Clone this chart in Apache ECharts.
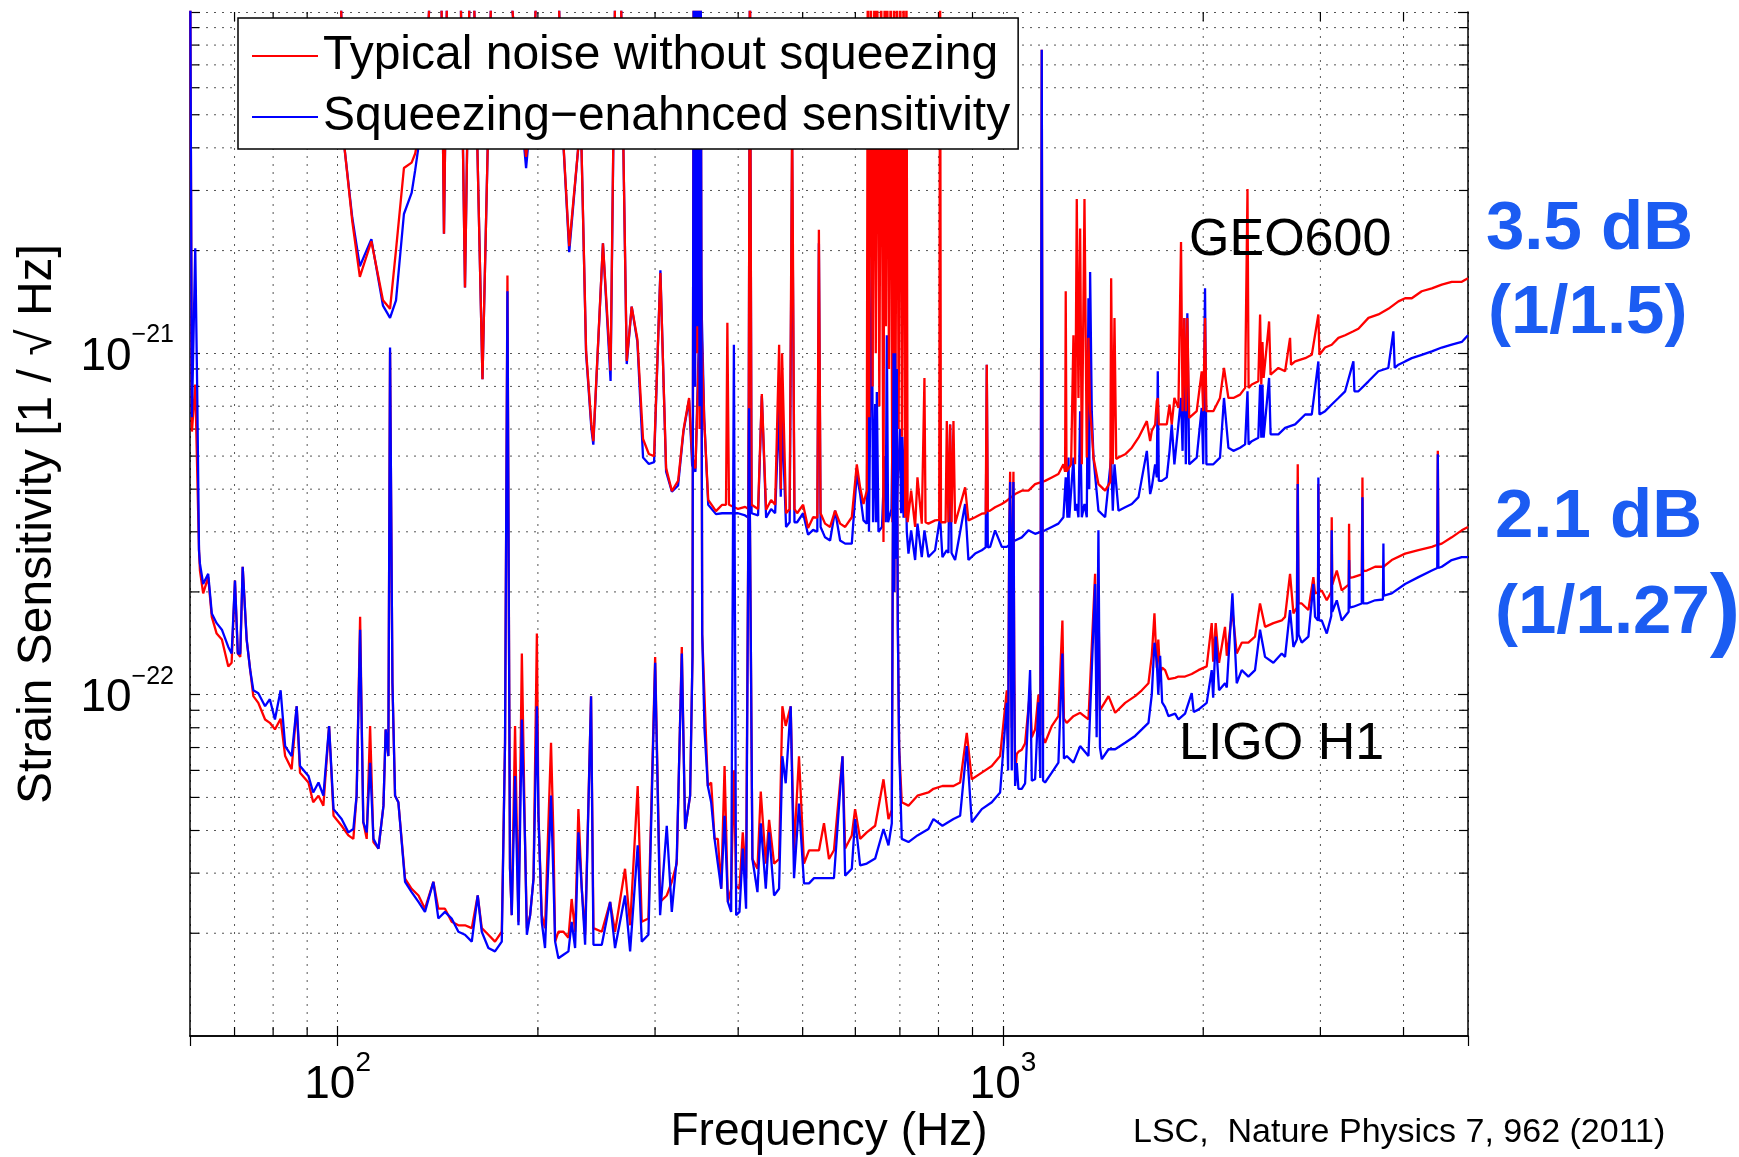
<!DOCTYPE html>
<html><head><meta charset="utf-8">
<script src="https://cdn.jsdelivr.net/npm/echarts/dist/echarts.min.js"></script>
<style>html,body{margin:0;padding:0;background:#fff}#c{width:1739px;height:1157px}</style>
</head><body><div id="c"></div>
<script>
// ---------------- data (frequency Hz, strain 1/sqrt(Hz)) ----------------
const ligoRed = [[60,2e-20],[60.4,5.9e-22],[61.1,8.1e-22],[61.5,8.1e-22],[61.9,2.65e-22],[62.1,2.31e-22],[62.8,1.98e-22],[63.9,2.21e-22],[64.7,1.69e-22],[65.8,1.51e-22],[67,1.45e-22],[68.5,1.21e-22],[69.3,1.24e-22],[70.1,2.16e-22],[70.8,1.32e-22],[71.4,1.29e-22],[72,2.37e-22],[73,1.45e-22],[73.9,1.18e-22],[74.7,9.9e-23],[76,9.46e-23],[77.8,8.46e-23],[79.1,8.27e-23],[80.5,7.91e-23],[82.1,8.5e-23],[83.4,6.61e-23],[85.3,6.05e-23],[86.8,9.25e-23],[87.8,5.91e-23],[90.4,5.53e-23],[91.9,4.84e-23],[93.6,5.06e-23],[95.2,4.73e-23],[97.1,8.09e-23],[98.6,4.42e-23],[101.4,4.13e-23],[103.8,3.87e-23],[105.6,3.78e-23],[106.8,5.06e-23],[108.1,1.69e-22],[109.3,4.23e-23],[110.6,3.78e-23],[111.9,8.09e-23],[113.2,3.7e-23],[115.2,3.54e-23],[117.2,4.73e-23],[118.1,7.91e-23],[119.2,6.61e-23],[119.9,1.01e-21],[120.9,1.08e-22],[122,5.06e-23],[123.4,4.84e-23],[126.3,2.89e-23],[129.2,2.7e-23],[132.3,2.58e-23],[135.3,2.36e-23],[139.3,2.83e-23],[141.7,2.36e-23],[145,2.36e-23],[148.4,2.16e-23],[151.9,2.11e-23],[155.4,2.11e-23],[159.1,2.07e-23],[162.4,2.58e-23],[164.7,2.07e-23],[168.5,1.98e-23],[172.4,1.89e-23],[176.5,2.02e-23],[178.5,7.23e-23],[180,1.69e-21],[181.6,3.09e-23],[182.7,2.26e-23],[184.8,8.09e-23],[187,2.16e-23],[189.2,1.32e-22],[191.3,3.7e-23],[192.5,2.07e-23],[194.7,2.26e-23],[197,2.89e-23],[199.3,1.51e-22],[200.4,4.42e-23],[202.7,2.26e-23],[205,2.07e-23],[209.3,7.23e-23],[211,3.95e-23],[212.3,1.89e-23],[214.7,2.02e-23],[218.5,2.02e-23],[222.3,1.94e-23],[224.8,2.52e-23],[227.5,2.02e-23],[230.1,4.62e-23],[232.8,2.7e-23],[235.5,1.98e-23],[240.4,9.9e-23],[242.4,2.07e-23],[249.5,2.02e-23],[256.8,2.47e-23],[261.2,2.02e-23],[270.4,3.09e-23],[275.2,2.11e-23],[282.5,5.4e-23],[286.5,2.16e-23],[293.2,2.21e-23],[300.1,1.29e-22],[305.3,2.47e-23],[312.4,2.58e-23],[317.9,2.83e-23],[323.4,3.2e-23],[329.1,1.38e-22],[332.9,4.04e-23],[338.7,5.06e-23],[341.5,1.3e-22],[343,2e-20],[344.5,8e-22],[345.5,2e-20],[347,1e-21],[348.2,2e-20],[350,6e-22],[351.2,2e-20],[353.2,1.5e-22],[356,9.9e-23],[360.1,5.4e-23],[364.3,5.53e-23],[368.6,3.78e-23],[372.8,3.78e-23],[377.2,2.7e-23],[381.6,6.18e-23],[386,2.47e-23],[390.4,2.7e-23],[394.1,6e-23],[397.2,2.75e-23],[401.8,2.7e-23],[406.4,3.95e-23],[411.1,2.89e-23],[415.4,6.9e-22],[420.2,3.3e-23],[427.6,3.09e-23],[432.5,5.2e-23],[440.1,3.2e-23],[445.2,4.3e-23],[452.9,3.2e-23],[460.8,3.3e-23],[466.1,9.25e-23],[471.5,8.1e-23],[479.7,9.25e-23],[485.3,3.5e-23],[493.7,6.6e-23],[502.3,3.2e-23],[511.1,3.5e-23],[520,3.5e-23],[529.1,3.5e-23],[538.3,4.2e-23],[547.7,3.3e-23],[557.2,3.5e-23],[573.9,6.6e-23],[579.2,3.54e-23],[592.7,3.87e-23],[599.5,4.62e-23],[610,3.78e-23],[624.2,3.95e-23],[642.6,4.13e-23],[661.4,5.65e-23],[672.9,4.32e-23],[680.7,4.6e-23],[684.7,8e-22],[686.6,2e-22],[688.6,9e-22],[690.6,2.5e-22],[692.6,8e-22],[695,1.6e-22],[698.2,7e-23],[704.6,4.84e-23],[721.1,4.73e-23],[743.9,5.06e-23],[772.7,5.17e-23],[786.2,5.3e-23],[811,5.4e-23],[842.6,5.4e-23],[862.3,5.53e-23],[882.3,7.73e-23],[897.7,5.65e-23],[929.4,5.91e-23],[962.1,6.18e-23],[990.2,6.61e-23],[1013.4,1.03e-22],[1018,7e-23],[1022,3e-22],[1025.2,4.5e-22],[1028,1.5e-22],[1031.1,8e-23],[1034,3e-22],[1037,4.5e-22],[1040,1.2e-22],[1043,5.9e-23],[1049,6.7e-23],[1055,6.8e-23],[1067.3,6.9e-23],[1079.7,7.2e-23],[1098.5,1.03e-22],[1105,7.5e-23],[1117.7,7.91e-23],[1130.8,1e-22],[1138,7.6e-23],[1143.7,7.75e-21],[1149,7.5e-23],[1157,7.23e-23],[1184,8.09e-23],[1211.6,8.65e-23],[1228.5,1.65e-22],[1235,8.5e-23],[1247,8.27e-23],[1276.3,8.65e-23],[1306.2,8.85e-23],[1344.4,8.46e-23],[1375.6,2.26e-22],[1383,9e-23],[1391.6,1.9e-22],[1399,9e-23],[1408,9.04e-23],[1441,9.9e-23],[1474.5,8.85e-23],[1526.5,9.46e-23],[1580.2,9.9e-23],[1617,1.03e-22],[1654.7,1.08e-22],[1673.8,1.3e-22],[1689.3,1.73e-22],[1703,1.2e-22],[1712,1.45e-22],[1722.8,1.15e-22],[1735,1.2e-22],[1752.8,1.18e-22],[1773.1,1.11e-22],[1814.4,1.12e-22],[1835.4,1.13e-22],[1878.1,1.13e-22],[1921.8,1.15e-22],[1966.7,1.18e-22],[2024.2,1.21e-22],[2059.5,1.62e-22],[2070,1.25e-22],[2088.1,1.62e-22],[2112.3,1.24e-22],[2156.6,1.58e-22],[2170,1.3e-22],[2212.5,1.77e-22],[2245.8,1.32e-22],[2285,1.42e-22],[2338.2,1.42e-22],[2392.6,1.48e-22],[2434.3,1.85e-22],[2477.1,1.58e-22],[2549.5,1.62e-22],[2624.2,1.65e-22],[2654.6,1.69e-22],[2700.9,2.26e-22],[2732.5,1.73e-22],[2765,1.8e-22],[2773.8,4.73e-22],[2782,1.85e-22],[2812.4,1.85e-22],[2878,1.77e-22],[2928.1,2.21e-22],[2945,1.98e-22],[2975,2e-22],[2979,4.14e-22],[2985,2e-22],[3014,2.02e-22],[3067,1.89e-22],[3115,2e-22],[3120,3.31e-22],[3126,2.1e-22],[3175,2.31e-22],[3230,2.02e-22],[3308,2.1e-22],[3313,3.17e-22],[3320,2.2e-22],[3363,2.21e-22],[3462,2.25e-22],[3470,4.33e-22],[3478,2.3e-22],[3523,2.31e-22],[3625,2.37e-22],[3731,2.37e-22],[3840,2.48e-22],[4022,2.59e-22],[4212,2.65e-22],[4412,2.71e-22],[4495,2.75e-22],[4504,5.18e-22],[4513,2.75e-22],[4566,2.77e-22],[4726,2.89e-22],[4893,3.03e-22],[5000,3.1e-22]];

const ligoBlue = [[60,2e-20],[60.4,6.5e-22],[61.1,2.03e-21],[61.5,8.1e-22],[61.9,2.65e-22],[62.1,2.42e-22],[62.8,2.11e-22],[63.9,2.26e-22],[64.7,1.73e-22],[65.8,1.62e-22],[67,1.55e-22],[68.5,1.38e-22],[69.3,1.32e-22],[70.1,2.16e-22],[70.8,1.32e-22],[71.4,1.32e-22],[72,2.37e-22],[73,1.45e-22],[73.9,1.18e-22],[74.7,1.03e-22],[76,1.01e-22],[77.8,9.25e-23],[79.1,9.7e-23],[80.5,8.46e-23],[82.1,1.03e-22],[83.4,7.07e-23],[85.3,6.61e-23],[86.8,9.25e-23],[87.8,6.18e-23],[90.4,5.78e-23],[91.9,5.17e-23],[93.6,5.53e-23],[95.2,5.06e-23],[97.1,8.09e-23],[98.6,4.62e-23],[101.4,4.32e-23],[103.8,3.95e-23],[105.6,4.04e-23],[106.8,5.06e-23],[108.1,1.55e-22],[109.3,4.23e-23],[110.6,3.95e-23],[111.9,6.32e-23],[113.2,3.78e-23],[115.2,3.54e-23],[117.2,4.73e-23],[118.1,7.91e-23],[119.2,6.61e-23],[119.9,1.04e-21],[120.9,1.08e-22],[122,5.06e-23],[123.4,4.84e-23],[126.3,2.83e-23],[129.2,2.64e-23],[132.3,2.47e-23],[135.3,2.31e-23],[139.3,2.83e-23],[141.7,2.21e-23],[145,2.31e-23],[148.4,2.21e-23],[151.9,2.02e-23],[155.4,1.98e-23],[159.1,1.89e-23],[162.4,2.58e-23],[164.7,2.02e-23],[168.5,1.81e-23],[172.4,1.77e-23],[176.5,1.89e-23],[178.5,7.23e-23],[180,1.52e-21],[181.6,3.09e-23],[182.7,2.26e-23],[184.8,5.78e-23],[187,2.11e-23],[189.2,8.46e-23],[191.3,3.7e-23],[192.5,1.98e-23],[194.7,2.26e-23],[197,2.89e-23],[199.3,9.25e-23],[200.4,4.42e-23],[202.7,2.16e-23],[205,1.81e-23],[209.3,5.06e-23],[211,2.94e-23],[212.3,1.89e-23],[214.7,1.69e-23],[218.5,1.73e-23],[222.3,1.77e-23],[224.8,2.16e-23],[227.5,1.81e-23],[230.1,3.95e-23],[232.8,2.7e-23],[235.5,1.85e-23],[240.4,9.9e-23],[242.4,1.85e-23],[249.5,1.85e-23],[256.8,2.47e-23],[261.2,1.81e-23],[270.4,2.58e-23],[275.2,1.77e-23],[282.5,3.62e-23],[286.5,1.89e-23],[293.2,1.98e-23],[300.1,1.24e-22],[305.3,2.26e-23],[312.4,4.13e-23],[317.9,2.31e-23],[323.4,3.31e-23],[329.1,1.32e-22],[332.9,4.04e-23],[338.7,5.06e-23],[341.5,1.3e-22],[343,2e-20],[344.5,8e-22],[345.5,2e-20],[347,1.2e-21],[348.2,2e-20],[350,7e-22],[351.2,2e-20],[353.2,1.5e-22],[356,7.9e-23],[360.1,5.4e-23],[364.3,4.84e-23],[368.6,3.78e-23],[372.8,3.2e-23],[377.2,2.7e-23],[381.6,4.42e-23],[386,2.47e-23],[390.4,2.31e-23],[394.1,1.06e-21],[397.2,2.26e-23],[401.8,2.31e-23],[406.4,3.54e-23],[411.1,2.36e-23],[415.4,6.9e-22],[420.2,3.3e-23],[427.6,2.64e-23],[432.5,4.2e-23],[440.1,2.7e-23],[445.2,3.95e-23],[452.9,2.58e-23],[460.8,2.7e-23],[466.1,6.6e-23],[471.5,5.5e-23],[479.7,9.25e-23],[485.3,2.9e-23],[493.7,4.8e-23],[502.3,2.8e-23],[511.1,2.8e-23],[520,2.9e-23],[529.1,2.9e-23],[538.3,2.9e-23],[547.7,2.9e-23],[557.2,2.9e-23],[573.9,6.6e-23],[579.2,2.95e-23],[592.7,3.09e-23],[599.5,4.32e-23],[610,3.16e-23],[624.2,3.2e-23],[642.6,3.31e-23],[661.4,4.04e-23],[672.9,3.62e-23],[680.7,4.2e-23],[684.7,1e-21],[686.6,2e-22],[688.6,1e-21],[690.6,2.5e-22],[692.6,9e-22],[695,1.6e-22],[698.2,7e-23],[704.6,3.78e-23],[721.1,3.7e-23],[743.9,3.87e-23],[772.7,4.04e-23],[786.2,4.32e-23],[811,4.13e-23],[842.6,4.32e-23],[862.3,4.42e-23],[882.3,7.07e-23],[897.7,4.23e-23],[929.4,4.62e-23],[962.1,4.84e-23],[990.2,5.17e-23],[1013.4,9.46e-23],[1018,6e-23],[1022,3e-22],[1025.2,4.2e-22],[1028,1.3e-22],[1031.1,6e-23],[1034,3e-22],[1037,4.2e-22],[1040,1.1e-22],[1043,5.4e-23],[1049,6.3e-23],[1055,5.3e-23],[1067.3,5.3e-23],[1079.7,5.5e-23],[1098.5,1.18e-22],[1105,5.6e-23],[1117.7,5.65e-23],[1130.8,9.5e-23],[1138,5.7e-23],[1143.7,7.75e-21],[1149,5.6e-23],[1157,5.53e-23],[1184,5.91e-23],[1211.6,6.32e-23],[1228.5,1.32e-22],[1235,6.5e-23],[1247,6.61e-23],[1276.3,6.32e-23],[1306.2,7.07e-23],[1344.4,6.61e-23],[1375.6,2.11e-22],[1383,7.5e-23],[1391.6,3.03e-22],[1399,7e-23],[1408,6.47e-23],[1441,6.92e-23],[1474.5,6.92e-23],[1526.5,7.23e-23],[1580.2,7.57e-23],[1617,7.91e-23],[1654.7,8.27e-23],[1673.8,1e-22],[1689.3,1.42e-22],[1703,1.25e-22],[1712,1e-22],[1722.8,1.3e-22],[1735,9.5e-23],[1752.8,9.2e-23],[1773.1,8.65e-23],[1814.4,8.8e-23],[1835.4,8.46e-23],[1878.1,8.8e-23],[1921.8,1.01e-22],[1935,8.9e-23],[1966.7,9.04e-23],[2024.2,9.46e-23],[2059.5,1.18e-22],[2070,9.8e-23],[2088.1,1.48e-22],[2112.3,1.03e-22],[2156.6,1.08e-22],[2170,1.05e-22],[2212.5,1.98e-22],[2245.8,1.08e-22],[2285,1.18e-22],[2338.2,1.13e-22],[2392.6,1.18e-22],[2434.3,1.55e-22],[2477.1,1.29e-22],[2549.5,1.24e-22],[2624.2,1.32e-22],[2654.6,1.29e-22],[2700.9,1.77e-22],[2732.5,1.38e-22],[2765,1.45e-22],[2773.8,4.14e-22],[2782,1.5e-22],[2812.4,1.42e-22],[2878,1.48e-22],[2928.1,2.11e-22],[2945,1.69e-22],[2975,1.65e-22],[2979,4.33e-22],[2985,1.65e-22],[3014,1.65e-22],[3067,1.51e-22],[3115,1.7e-22],[3120,3.03e-22],[3126,1.75e-22],[3175,1.89e-22],[3230,1.65e-22],[3308,1.75e-22],[3313,2.48e-22],[3320,1.8e-22],[3363,1.81e-22],[3462,1.85e-22],[3470,3.79e-22],[3478,1.85e-22],[3523,1.85e-22],[3625,1.89e-22],[3725,1.9e-22],[3731,2.77e-22],[3737,1.95e-22],[3840,1.98e-22],[4022,2.11e-22],[4212,2.21e-22],[4412,2.31e-22],[4495,2.35e-22],[4504,5.06e-22],[4513,2.35e-22],[4566,2.37e-22],[4726,2.48e-22],[4893,2.53e-22],[5000,2.53e-22]];

const geoRed = [[60,5e-20],[99.8,3e-20],[102.5,3.94e-21],[105.2,2.44e-21],[108,1.675e-21],[112.4,2.13e-21],[117,1.43e-21],[119.9,1.35e-21],[122.4,2.01e-21],[125.8,3.49e-21],[129.2,3.62e-21],[130.8,3.85e-21],[135.3,5.5e-21],[138.5,1.5e-20],[143,1.5e-20],[144.5,2.24e-21],[146.3,1.5e-20],[152.8,1.5e-20],[155.4,1.56e-21],[158.2,1.5e-20],[159.8,1.5e-20],[165.1,8.4e-22],[170.7,1.5e-20],[180,1.5e-20],[188.1,5.5e-21],[192,3.76e-21],[196,5.5e-21],[200,1.5e-20],[214,1.5e-20],[217.9,4.5e-21],[222.9,2.06e-21],[229.8,3.94e-21],[231.5,6e-21],[236.3,1.02e-21],[240.7,6.17e-22],[242.3,5.53e-22],[250.5,2.1e-21],[257.2,8.9e-22],[261.7,1.5e-20],[266,1.5e-20],[272,9.5e-22],[276.7,1.37e-21],[282.2,1.1e-21],[287.8,5.61e-22],[293.6,5.07e-22],[299,5e-22],[305.6,1.72e-21],[311.7,4.61e-22],[318,3.95e-22],[324.9,4.23e-22],[331,5.96e-22],[337.5,7.4e-22],[341.1,5e-22],[345,4.6e-22],[351.3,1.44e-21],[355.6,6.38e-22],[360.6,3.72e-22],[370.4,3.45e-22],[378.4,3.6e-22],[383.5,3.6e-22],[385.3,1.23e-21],[387.5,3.6e-22],[399.9,3.5e-22],[409.7,3.55e-22],[414.5,3.5e-22],[416.6,1.5e-20],[419,3.6e-22],[428.5,3.5e-22],[434.1,7.6e-22],[440.6,3.48e-22],[448.3,3.72e-22],[454.6,3.6e-22],[460.9,1.06e-21],[463.5,4e-22],[465.6,1e-21],[472.1,3.4e-22],[478,3.5e-22],[482.1,5e-21],[486,3.5e-22],[490.5,3.4e-22],[500.8,3.6e-22],[509.5,3.08e-22],[518.4,3.31e-22],[526,3.3e-22],[528.9,2.3e-21],[532,3.4e-22],[540.3,3.17e-22],[549.8,3.1e-22],[559.4,3.46e-22],[569.2,3.17e-22],[579.2,3.1e-22],[592.7,3.31e-22],[603,4.73e-22],[610,4.05e-22],[617.1,3.62e-22],[624.2,3.96e-22],[626.4,1.5e-20],[629.5,6.5e-22],[633,1.5e-20],[637,8e-22],[641,1.5e-20],[644,1e-21],[647,1.5e-20],[652,7e-22],[656,1.5e-20],[661.4,2.8e-22],[664,1.5e-20],[667,1.2e-21],[670,1.5e-20],[674,9e-22],[678,1.5e-20],[682,3.2e-22],[686,1.5e-20],[689,4.4e-22],[693,1.5e-20],[697,6e-22],[701,1.5e-20],[705,5.7e-22],[709,1.5e-20],[713,3.3e-22],[716,1.5e-20],[719,3.2e-22],[721.1,3.17e-22],[727.8,3.96e-22],[737.9,3.1e-22],[743.9,4.33e-22],[755.1,3.17e-22],[759.5,3.2e-22],[762.1,8.47e-22],[765,3.2e-22],[772.7,3.17e-22],[790.7,3.24e-22],[802,3.25e-22],[804.5,1.5e-20],[807,3.2e-22],[811,3.17e-22],[820,3.2e-22],[823.4,6.33e-22],[828,3.2e-22],[832.9,6.19e-22],[837,3.2e-22],[842.6,6.33e-22],[847.4,3.17e-22],[877.3,4.05e-22],[887.4,3.24e-22],[908.2,3.31e-22],[929.4,3.39e-22],[942,3.4e-22],[945.6,9.26e-22],[949,3.45e-22],[956.5,3.46e-22],[973.2,3.54e-22],[996.1,3.62e-22],[1013.4,3.7e-22],[1043,3.87e-22],[1067.3,3.96e-22],[1092.2,3.96e-22],[1117.7,4.14e-22],[1157,4.23e-22],[1184,4.33e-22],[1211.6,4.43e-22],[1232.8,4.73e-22],[1240,4.5e-22],[1242.7,1.52e-21],[1246,4.5e-22],[1254.5,4.53e-22],[1266,4.73e-22],[1276.3,1.13e-21],[1283.6,4.73e-22],[1291.1,2.83e-21],[1298.6,7.4e-22],[1306.2,2.32e-21],[1313.8,4.73e-22],[1326,2.83e-21],[1336.6,4.95e-22],[1344.4,1.11e-21],[1352.1,6.77e-22],[1359.9,5.92e-22],[1367.8,4.95e-22],[1391.6,4.14e-22],[1424.3,3.96e-22],[1450,4.2e-22],[1454.2,1.66e-21],[1462.6,4.73e-22],[1471.1,1.27e-21],[1480,4.9e-22],[1491.6,4.95e-22],[1526.5,5.06e-22],[1562.1,5.29e-22],[1598.5,5.66e-22],[1645.4,6.33e-22],[1664.4,5.53e-22],[1673.8,5.92e-22],[1693.4,6.19e-22],[1703,7.24e-22],[1708.9,7.4e-22],[1715,6.19e-22],[1732.6,6.19e-22],[1763,6.19e-22],[1780,7.08e-22],[1793.6,6.19e-22],[1810,7.4e-22],[1835.4,6.92e-22],[1852,2.12e-21],[1862,6.77e-22],[1873.4,1.27e-21],[1883,6.77e-22],[1893,1.27e-21],[1905,6.47e-22],[1955.4,6.77e-22],[1989.5,8.86e-22],[2000,6.77e-22],[2012.5,1.27e-21],[2022,6.77e-22],[2071.2,6.77e-22],[2119.5,7.4e-22],[2149,9.06e-22],[2182,7.4e-22],[2220,7.4e-22],[2272,7.57e-22],[2312,7.92e-22],[2331,3.03e-21],[2340,7.92e-22],[2366,8.1e-22],[2420,8.28e-22],[2435,1.3e-21],[2445,8.1e-22],[2455,1.08e-21],[2465,8.47e-22],[2512,1.24e-21],[2525,8.66e-22],[2594,9.06e-22],[2655,8.86e-22],[2701,1.11e-21],[2710,9.26e-22],[2749,9.47e-22],[2846,9.68e-22],[2912,9.9e-22],[2979,1.3e-21],[2990,9.9e-22],[3049,1.04e-21],[3120,1.06e-21],[3193,1.11e-21],[3268,1.13e-21],[3363,1.16e-21],[3422,1.18e-21],[3543,1.27e-21],[3667,1.3e-21],[3795,1.35e-21],[3930,1.42e-21],[4022,1.45e-21],[4116,1.45e-21],[4260,1.52e-21],[4412,1.55e-21],[4566,1.59e-21],[4726,1.62e-21],[4893,1.62e-21],[5000,1.66e-21]];

const geoBlue = [[60,5e-20],[99.8,3e-20],[102.5,3.94e-21],[105.2,2.5e-21],[108,1.8e-21],[112.4,2.16e-21],[117,1.38e-21],[119.9,1.27e-21],[122.4,1.43e-21],[125.8,2.56e-21],[129.2,2.95e-21],[130.8,3.44e-21],[135.3,5.5e-21],[138.5,1.5e-20],[143,1.5e-20],[144.5,2.24e-21],[146.3,1.5e-20],[152.8,1.5e-20],[155.4,1.56e-21],[158.2,1.5e-20],[159.8,1.5e-20],[165.1,8.4e-22],[170.7,1.5e-20],[180,1.5e-20],[188.1,5.5e-21],[192,3.49e-21],[196,5.5e-21],[200,1.5e-20],[214,1.5e-20],[217.9,4.5e-21],[222.9,1.98e-21],[229.8,3.94e-21],[231.5,6e-21],[236.3,1e-21],[240.7,6e-22],[242.3,5.4e-22],[250.5,2.1e-21],[257.2,8.3e-22],[261.7,1.5e-20],[266,1.5e-20],[272,9.3e-22],[276.7,1.37e-21],[282.2,1.08e-21],[287.8,4.95e-22],[293.6,4.74e-22],[299,4.8e-22],[305.6,1.75e-21],[311.7,4.5e-22],[318,3.93e-22],[324.9,4.1e-22],[331,5.9e-22],[337.5,7.3e-22],[341.1,4.7e-22],[345,4.5e-22],[351.3,1.78e-21],[355.6,6.5e-22],[360.6,3.6e-22],[370.4,3.38e-22],[378.4,3.4e-22],[387.5,3.4e-22],[399.9,3.4e-22],[409.7,3.35e-22],[414.5,3.3e-22],[416.6,1.5e-20],[419,3.4e-22],[428.5,3.35e-22],[434.1,7.5e-22],[440.6,3.3e-22],[448.3,3.5e-22],[454.6,3.4e-22],[460.9,6.9e-22],[463.5,3.8e-22],[465.6,6.5e-22],[472.1,3.1e-22],[478,3.2e-22],[482.1,4e-21],[486,3.2e-22],[490.5,3.2e-22],[500.8,3.4e-22],[509.5,2.94e-22],[518.4,3.04e-22],[526,3e-22],[528.9,2.1e-21],[532,3.1e-22],[540.3,2.89e-22],[549.8,2.83e-22],[559.4,3.46e-22],[569.2,2.83e-22],[579.2,2.77e-22],[592.7,2.77e-22],[603,4.43e-22],[610,3.87e-22],[617.1,3.24e-22],[624.2,3.17e-22],[626.4,1e-21],[629,3e-22],[635.1,1.94e-21],[638,3.2e-22],[642.6,7.1e-22],[644.5,3.2e-22],[646.3,7.7e-22],[650,3e-22],[658,3.1e-22],[664,5e-22],[666.5,3.2e-22],[669.1,1.13e-21],[672,3.2e-22],[680,3.5e-22],[684.7,9.5e-22],[686.6,3.4e-22],[688.6,9e-22],[692,3.5e-22],[700.6,6e-22],[703,3.4e-22],[706,5.7e-22],[709,3.3e-22],[712.8,5.7e-22],[717,3e-22],[721.1,2.59e-22],[727.8,3.03e-22],[737.9,2.48e-22],[743.9,3.17e-22],[755.1,2.53e-22],[762.1,3.03e-22],[772.7,2.53e-22],[790.7,2.65e-22],[804.5,3.31e-22],[811,2.53e-22],[823.4,2.65e-22],[828,2.6e-22],[832.9,6.19e-22],[837,2.6e-22],[847.4,2.48e-22],[877.3,3.62e-22],[887.4,2.48e-22],[908.2,2.59e-22],[929.4,2.65e-22],[942,2.7e-22],[945.6,9.26e-22],[949,2.7e-22],[956.5,2.71e-22],[973.2,3.03e-22],[996.1,2.71e-22],[1013.4,2.71e-22],[1043,2.83e-22],[1067.3,2.89e-22],[1092.2,3.03e-22],[1117.7,2.96e-22],[1157,3.03e-22],[1184,3.1e-22],[1211.6,3.17e-22],[1232.8,3.31e-22],[1242.7,4.33e-22],[1250,3.3e-22],[1254.5,4.95e-22],[1258,3.3e-22],[1266,3.31e-22],[1276.3,4.95e-22],[1283.6,3.46e-22],[1291.1,3.62e-22],[1298.6,3.31e-22],[1306.2,6.77e-22],[1313.8,3.31e-22],[1326,3.62e-22],[1336.6,3.31e-22],[1344.4,1.45e-21],[1348,4e-22],[1352.1,1.73e-21],[1359.9,6.77e-22],[1367.8,4.95e-22],[1391.6,3.46e-22],[1424.3,3.31e-22],[1454.2,4.95e-22],[1462.6,3.46e-22],[1471.1,4.73e-22],[1491.6,3.46e-22],[1526.5,3.54e-22],[1562.1,3.62e-22],[1598.5,3.79e-22],[1645.4,5.18e-22],[1664.4,3.87e-22],[1673.8,4.05e-22],[1693.4,4.73e-22],[1703,4.33e-22],[1708.9,8.86e-22],[1715,4.23e-22],[1732.6,4.23e-22],[1763,4.33e-22],[1780,5.18e-22],[1793.6,6.19e-22],[1810,4.73e-22],[1835.4,6.19e-22],[1852,7.4e-22],[1862,5.18e-22],[1873.4,1.27e-21],[1883,4.73e-22],[1893,1.31e-21],[1905,4.73e-22],[1955.4,4.95e-22],[1989.5,6.92e-22],[2000,4.73e-22],[2012.5,1.55e-21],[2022,4.73e-22],[2071.2,4.73e-22],[2119.5,4.95e-22],[2149,7.4e-22],[2182,5.29e-22],[2220,5.18e-22],[2272,5.29e-22],[2312,5.41e-22],[2331,7.74e-22],[2340,5.41e-22],[2366,5.53e-22],[2420,5.66e-22],[2435,8.1e-22],[2445,5.66e-22],[2455,8.1e-22],[2465,5.66e-22],[2512,8.47e-22],[2525,5.79e-22],[2594,5.79e-22],[2655,6.05e-22],[2749,6.19e-22],[2846,6.62e-22],[2912,6.62e-22],[2979,9.47e-22],[2990,6.62e-22],[3049,6.77e-22],[3120,7.08e-22],[3193,7.4e-22],[3268,7.74e-22],[3363,9.47e-22],[3375,7.74e-22],[3422,7.74e-22],[3543,8.28e-22],[3667,8.86e-22],[3795,9.06e-22],[3862,1.16e-21],[3880,9.06e-22],[3930,9.26e-22],[4022,9.47e-22],[4116,9.68e-22],[4260,9.9e-22],[4412,1.013e-21],[4566,1.04e-21],[4726,1.06e-21],[4893,1.08e-21],[5000,1.13e-21]];

// tick values
const xMajorExp = [2, 3];
const yMajorExp = [-23, -22, -21];
const xMinorTicks = [70, 80, 90, 200, 300, 400, 500, 600, 700, 800, 900, 2000, 3000, 4000];
const yMinorTicks = [2e-23, 3e-23, 4e-23, 5e-23, 6e-23, 7e-23, 8e-23, 9e-23,
                     2e-22, 3e-22, 4e-22, 5e-22, 6e-22, 7e-22, 8e-22, 9e-22,
                     2e-21, 3e-21, 4e-21, 5e-21, 6e-21, 7e-21, 8e-21, 9e-21];

const NAME_RED = 'Typical noise without squeezing';
const NAME_BLUE = 'Squeezing\u2212enahnced sensitivity';
const Y_TITLE = 'Strain Sensitivity [1 / \u221A Hz]';
const FONT = '"Liberation Sans", Arial, Helvetica, sans-serif';
const TXT_BLUE = '#1b5cf2';
const GRID_COLOR = '#555';

const chart = echarts.init(document.getElementById('c'), null, {renderer: 'canvas', width: 1739, height: 1157});

const xRich = {
  b: {fontSize: 46, fontFamily: FONT, color: '#000', lineHeight: 72},
  s: {fontSize: 28, fontFamily: FONT, color: '#000', lineHeight: 28, verticalAlign: 'top'}
};
const yRich = {
  b: {fontSize: 46, fontFamily: FONT, color: '#000', lineHeight: 68},
  s: {fontSize: 25, fontFamily: FONT, color: '#000', lineHeight: 25, verticalAlign: 'top'}
};

function xLabel(v) {
  const e = Math.round(Math.log10(v));
  if (Math.abs(Math.log10(v) - e) > 1e-6 || xMajorExp.indexOf(e) < 0) return '';
  return '{b|10}{s|' + e + '}';
}
function yLabel(v) {
  const e = Math.round(Math.log10(v));
  if (Math.abs(Math.log10(v) - e) > 1e-6 || yMajorExp.indexOf(e) < 0) return '';
  return '{b|10}{s|\u2212' + (-e) + '}';
}

const axisLineStyle = {color: '#000', width: 1.5};
const majorTick = {show: true, inside: true, length: 10, lineStyle: {color: '#000', width: 1.2}};
const gridDash = {color: GRID_COLOR, width: 1, type: [2, 6]};

function minorX(params, api) {
  const cs = params.coordSys;
  const px = api.coord([api.value(0), api.value(1)])[0];
  const top = cs.y, bot = cs.y + cs.height;
  return {type: 'group', children: [
    {type: 'line', shape: {x1: px, y1: top, x2: px, y2: bot}, style: {stroke: GRID_COLOR, lineWidth: 1, lineDash: [2, 6]}},
    {type: 'line', shape: {x1: px, y1: bot, x2: px, y2: bot - 9}, style: {stroke: '#000', lineWidth: 1.2}},
    {type: 'line', shape: {x1: px, y1: top, x2: px, y2: top + 9}, style: {stroke: '#000', lineWidth: 1.2}}
  ]};
}
function minorY(params, api) {
  const cs = params.coordSys;
  const py = api.coord([api.value(0), api.value(1)])[1];
  const l = cs.x, r = cs.x + cs.width;
  return {type: 'group', children: [
    {type: 'line', shape: {x1: l, y1: py, x2: r, y2: py}, style: {stroke: GRID_COLOR, lineWidth: 1, lineDash: [2, 6]}},
    {type: 'line', shape: {x1: l, y1: py, x2: l + 9, y2: py}, style: {stroke: '#000', lineWidth: 1.2}},
    {type: 'line', shape: {x1: r, y1: py, x2: r - 9, y2: py}, style: {stroke: '#000', lineWidth: 1.2}}
  ]};
}

function lineSeries(name, data, color) {
  return {name: name, type: 'line', data: data, symbol: 'none', showSymbol: false, smooth: false,
    clip: true, z: 3, lineStyle: {color: color, width: 2.3}, itemStyle: {color: color},
    emphasis: {disabled: true}, animation: false};
}

const option = {
  animation: false,
  backgroundColor: '#fff',
  grid: {left: 190, right: 271, top: 12, bottom: 121, containLabel: false, outerBoundsMode: 'none'},
  legend: {
    data: [NAME_RED, NAME_BLUE], orient: 'vertical', left: 238, top: 18,
    backgroundColor: '#fff', borderColor: '#000', borderWidth: 1.5, borderRadius: 0,
    padding: [14, 8, 8, 14], itemWidth: 66, itemHeight: 2, itemGap: 13,
    icon: 'rect', selectedMode: false, z: 10,
    textStyle: {fontSize: 48, fontFamily: FONT, color: '#000', lineHeight: 48}
  },
  xAxis: [{
    type: 'log', logBase: 10, min: 60, max: 5000, position: 'bottom',
    axisLine: {show: true, lineStyle: axisLineStyle},
    axisTick: majorTick,
    axisLabel: {show: true, margin: 13, formatter: xLabel, rich: xRich, showMinLabel: false, showMaxLabel: false},
    splitLine: {show: true, lineStyle: gridDash},
    name: 'Frequency (Hz)', nameLocation: 'middle', nameGap: 73, nameMoveOverlap: false,
    nameTextStyle: {fontSize: 46, fontFamily: FONT, color: '#000'}
  }, {
    type: 'log', logBase: 10, min: 60, max: 5000, position: 'top',
    axisLine: {show: true, lineStyle: axisLineStyle},
    axisTick: majorTick, axisLabel: {show: false}, splitLine: {show: false}
  }],
  yAxis: [{
    type: 'log', logBase: 10, min: 1e-23, max: 1e-20, position: 'left',
    axisLine: {show: true, lineStyle: axisLineStyle},
    axisTick: majorTick,
    axisLabel: {show: true, margin: 16, formatter: yLabel, rich: yRich, padding: [7, 0, 0, 0]},
    splitLine: {show: true, lineStyle: gridDash},
    name: Y_TITLE, nameLocation: 'middle', nameGap: 128, nameRotate: 90, nameMoveOverlap: false,
    nameTextStyle: {fontSize: 48, fontFamily: FONT, color: '#000'}
  }, {
    type: 'log', logBase: 10, min: 1e-23, max: 1e-20, position: 'right',
    axisLine: {show: true, lineStyle: axisLineStyle},
    axisTick: majorTick, axisLabel: {show: false}, splitLine: {show: false}
  }],
  series: [
    {type: 'custom', name: 'xminor', xAxisIndex: 0, yAxisIndex: 0, silent: true, z: 1, clip: false,
     data: xMinorTicks.map(v => [v, 1e-22]), renderItem: minorX},
    {type: 'custom', name: 'yminor', xAxisIndex: 0, yAxisIndex: 0, silent: true, z: 1, clip: false,
     data: yMinorTicks.map(v => [100, v]), renderItem: minorY},
    lineSeries(NAME_BLUE, geoBlue, '#0000ff'),
    lineSeries(NAME_RED, geoRed, '#ff0000'),
    lineSeries(NAME_RED, ligoRed, '#ff0000'),
    lineSeries(NAME_BLUE, ligoBlue, '#0000ff')
  ],
  graphic: [
    {type: 'text', x: 1189, y: 241, z: 20, style: {text: 'GEO600', font: '52px ' + FONT, fill: '#000', align: 'left', verticalAlign: 'middle'}},
    {type: 'text', x: 1179, y: 745, z: 20, style: {text: 'LIGO H1', font: '52px ' + FONT, fill: '#000', align: 'left', verticalAlign: 'middle'}},
    {type: 'text', x: 1486, y: 230, z: 20, style: {text: '3.5 dB', font: 'bold 69px ' + FONT, fill: TXT_BLUE, align: 'left', verticalAlign: 'middle'}},
    {type: 'text', x: 1488, y: 314, z: 20, style: {text: '(1/1.5)', font: 'bold 69px ' + FONT, fill: TXT_BLUE, align: 'left', verticalAlign: 'middle'}},
    {type: 'text', x: 1495, y: 518, z: 20, style: {text: '2.1 dB', font: 'bold 69px ' + FONT, fill: TXT_BLUE, align: 'left', verticalAlign: 'middle'}},
    {type: 'text', x: 1495, y: 614, z: 20, style: {text: '{a|(1/1.27}{c|)}', align: 'left', verticalAlign: 'middle',
      rich: {a: {fontSize: 69, fontWeight: 'bold', fontFamily: FONT, fill: TXT_BLUE, color: TXT_BLUE},
             c: {fontSize: 92, fontWeight: 'bold', fontFamily: FONT, fill: TXT_BLUE, color: TXT_BLUE}}}},
    {type: 'text', x: 1133, y: 1133, z: 20, style: {text: 'LSC,  Nature Physics 7, 962 (2011)', font: '34px ' + FONT, fill: '#000', align: 'left', verticalAlign: 'middle'}}
  ]
};
chart.setOption(option);
</script>
</body></html>
